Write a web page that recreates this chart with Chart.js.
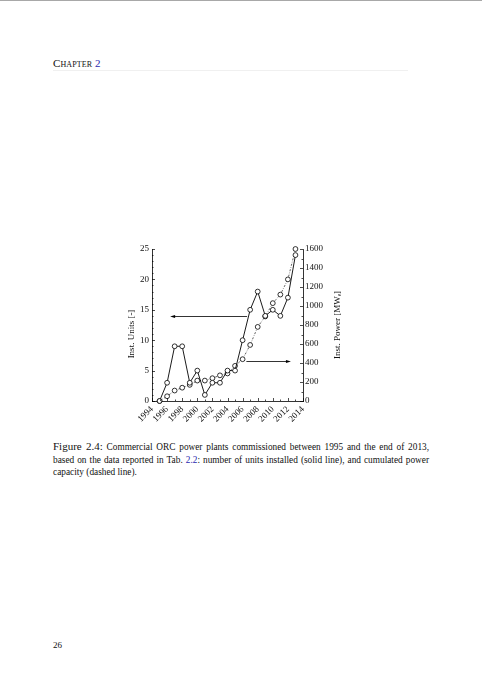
<!DOCTYPE html>
<html>
<head>
<meta charset="utf-8">
<script src="https://cdn.jsdelivr.net/npm/chart.js@4.4.1/dist/chart.umd.min.js"></script>
<style>
  html, body { margin: 0; padding: 0; background: #fff; }
  body { width: 482px; height: 680px; position: relative; overflow: hidden;
         font-family: "Liberation Serif", "DejaVu Serif", serif; color: #111; }
  .topline { position: absolute; left: 0; top: 0; width: 482px; height: 1px; background: #a8a8a8; }
  .head { position: absolute; left: 53px; top: 57px; font-size: 11px; font-variant: small-caps; letter-spacing: 0.1px; }
  .head .n { color: #2a2ab0; font-variant: normal; }
  .headrule { position: absolute; left: 53px; top: 70px; width: 355px; height: 1px; background: #f0f0f0; }
  #wrap { position: absolute; left: 100px; top: 235px; width: 260px; height: 200px; }
  .cap { position: absolute; left: 53px; width: 376px; font-size: 9.3px; line-height: 12px; white-space: nowrap; }
  .cap.j { text-align: justify; text-align-last: justify; }
  .cap .fig { font-size: 11px; }
  .cap .ref { color: #2a2ab0; }
  .pg { position: absolute; left: 53px; top: 640px; font-size: 9px; }
</style>
</head>
<body>
<div class="topline"></div>
<div class="head">Chapter <span class="n">2</span></div>
<div class="headrule"></div>

<div id="wrap"><canvas id="orcChart"></canvas></div>

<div class="cap j" style="top:440px;"><span class="fig">Figure 2.4:</span> Commercial ORC power plants commissioned between 1995 and the end of 2013,</div>
<div class="cap j" style="top:454px;">based on the data reported in Tab. <span class="ref">2.2</span>: number of units installed (solid line), and cumulated power</div>
<div class="cap" style="top:466px;">capacity (dashed line).</div>

<div class="pg">26</div>

<script>
// values
const years = [1995, 1996, 1997, 1998, 1999, 2000, 2001, 2002, 2003, 2004,
               2005, 2006, 2007, 2008, 2009, 2010, 2011, 2012, 2013];
const unitsInstalled = [0, 3, 9, 9, 3, 5, 1, 3, 3, 5, 5, 10, 15, 18, 14, 15, 14, 17, 24];
const cumulatedPower = [0, 50, 110, 140, 170, 215, 215, 240, 270, 290,
                        370, 440, 590, 780, 890, 1030, 1120, 1280, 1600];
const yearTicks = { min: 1994, max: 2014, step: 2 };
const unitTicks = { min: 0, max: 25, step: 5 };
const powerTicks = { min: 0, max: 1600, step: 200 };
// arrows pointing to the axis of each curve: [x0, x1, units level]
const arrowLeft = [2006.6, 1996.4, 14];
const arrowRight = [2006.5, 2012.4, 6.6];

const serif = '"Liberation Serif", "DejaVu Serif", serif';

function pts(ys) {
  return years.map((x, i) => ({ x, y: ys[i] }));
}

// inward tick marks, major + minor
const insideTicks = {
  id: 'insideTicks',
  afterDraw(chart) {
    const { ctx, chartArea: a, scales } = chart;
    ctx.save();
    ctx.strokeStyle = '#000';
    ctx.lineWidth = 0.7;
    ctx.beginPath();
    for (let v = unitTicks.min; v <= unitTicks.max; v += 1) {
      const y = Math.round(scales.y.getPixelForValue(v)) + 0.5;
      const len = v % unitTicks.step === 0 ? 3 : 1.5;
      ctx.moveTo(a.left, y); ctx.lineTo(a.left + len, y);
    }
    for (let v = powerTicks.min; v <= powerTicks.max; v += 100) {
      const y = Math.round(scales.y1.getPixelForValue(v)) + 0.5;
      const len = v % powerTicks.step === 0 ? 3 : 1.5;
      ctx.moveTo(a.right, y); ctx.lineTo(a.right - len, y);
    }
    for (let v = yearTicks.min; v <= yearTicks.max; v += 1) {
      const x = Math.round(scales.x.getPixelForValue(v)) + 0.5;
      const len = v % yearTicks.step === 0 ? 3 : 1.5;
      ctx.moveTo(x, a.bottom); ctx.lineTo(x, a.bottom - len);
    }
    ctx.stroke();
    ctx.restore();
  }
};

// right axis title, reading bottom-to-top like the left one
const rightTitle = {
  id: 'rightTitle',
  afterDraw(chart) {
    const { ctx, chartArea: a } = chart;
    ctx.save();
    ctx.translate(a.right + 35, (a.top + a.bottom) / 2);
    ctx.rotate(-Math.PI / 2);
    ctx.font = '9px ' + serif;
    ctx.fillStyle = '#111';
    ctx.textAlign = 'center';
    ctx.textBaseline = 'middle';
    ctx.fillText('Inst. Power [MWₑ]', 0, 0);
    ctx.restore();
  }
};

function drawArrow(ctx, x0, x1, y) {
  const dir = x1 > x0 ? 1 : -1;
  ctx.beginPath();
  ctx.moveTo(x0, y);
  ctx.lineTo(x1 - dir * 3, y);
  ctx.stroke();
  ctx.beginPath();
  ctx.moveTo(x1, y);
  ctx.lineTo(x1 - dir * 5, y - 1.6);
  ctx.lineTo(x1 - dir * 5, y + 1.6);
  ctx.closePath();
  ctx.fill();
}

const arrows = {
  id: 'arrows',
  afterDatasetsDraw(chart) {
    const { ctx, scales } = chart;
    ctx.save();
    ctx.strokeStyle = '#000';
    ctx.fillStyle = '#000';
    ctx.lineWidth = 0.8;
    [arrowLeft, arrowRight].forEach(([a, b, u]) => {
      drawArrow(ctx, scales.x.getPixelForValue(a), scales.x.getPixelForValue(b),
                Math.round(scales.y.getPixelForValue(u)) + 0.5);
    });
    ctx.restore();
  }
};

const tickFont = { family: serif, size: 9 };

new Chart(document.getElementById('orcChart'), {
  type: 'line',
  data: {
    datasets: [
      {
        label: 'units',
        data: pts(unitsInstalled),
        yAxisID: 'y',
        borderColor: '#000',
        borderWidth: 0.9,
        pointRadius: 2.4,
        pointBackgroundColor: '#fff',
        pointBorderColor: '#000',
        pointBorderWidth: 0.8,
        tension: 0,
        clip: false,
      },
      {
        label: 'power',
        data: pts(cumulatedPower),
        yAxisID: 'y1',
        borderColor: '#333',
        borderWidth: 0.8,
        borderDash: [2, 1.5, 0.6, 1.5],
        pointRadius: 2.4,
        pointBackgroundColor: '#fff',
        pointBorderColor: '#000',
        pointBorderWidth: 0.8,
        tension: 0,
        clip: false,
      },
    ],
  },
  options: {
    responsive: true,
    maintainAspectRatio: false,
    animation: false,
    layout: { padding: { top: 14, left: 0, right: 0, bottom: 0 } },
    plugins: { legend: { display: false }, tooltip: { enabled: false } },
    scales: {
      x: {
        type: 'linear',
        min: yearTicks.min, max: yearTicks.max,
        grid: { display: false, drawTicks: false },
        border: { display: true, color: '#000', width: 0.8 },
        ticks: {
          stepSize: yearTicks.step, color: '#111', font: tickFont, autoSkip: false,
          minRotation: 45, maxRotation: 45, padding: 3,
          callback: (v) => String(v),
        },
        afterFit: (s) => { s.height = 34; },
      },
      y: {
        position: 'left',
        min: unitTicks.min, max: unitTicks.max,
        grid: { display: false, drawTicks: false },
        border: { display: true, color: '#000', width: 0.8 },
        ticks: { stepSize: unitTicks.step, color: '#111', font: tickFont, padding: 3,
                 callback: (v) => String(v) },
        title: {
          display: true, text: 'Inst. Units [-]\u00a0\u00a0\u00a0\u00a0\u00a0\u00a0\u00a0\u00a0',
          color: '#111', font: tickFont, padding: { top: 26, bottom: 0 },
        },
        afterFit: (s) => { s.width = 52; },
      },
      y1: {
        position: 'right',
        min: powerTicks.min, max: powerTicks.max,
        grid: { display: false, drawTicks: false },
        border: { display: true, color: '#000', width: 0.8 },
        ticks: { stepSize: powerTicks.step, color: '#111', font: tickFont, padding: 2,
                 callback: (v) => String(v) },
        afterFit: (s) => { s.width = 57; },
      },
    },
  },
  plugins: [insideTicks, arrows, rightTitle],
});
</script>
</body>
</html>
